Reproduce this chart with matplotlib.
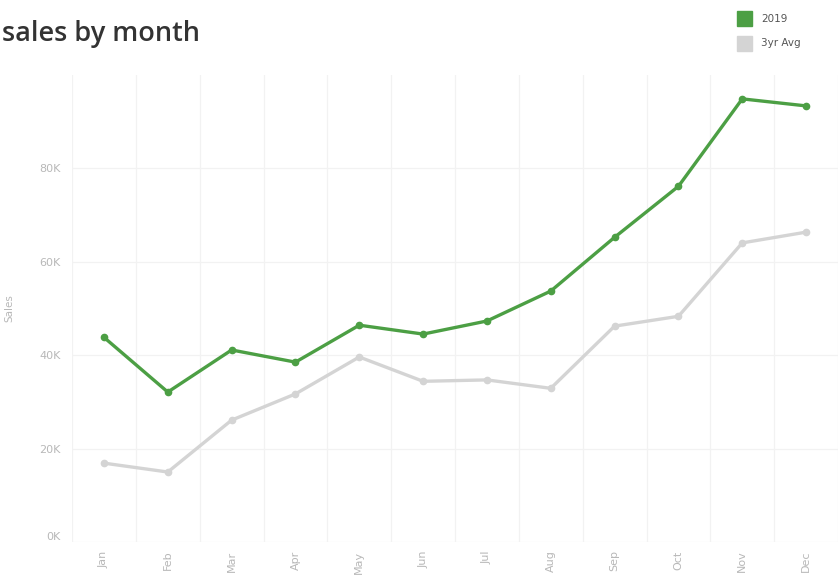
import matplotlib.pyplot as plt
from matplotlib.patches import Rectangle
from matplotlib.ticker import FuncFormatter

months = ['Jan', 'Feb', 'Mar', 'Apr', 'May', 'Jun', 'Jul', 'Aug', 'Sep', 'Oct', 'Nov', 'Dec']
sales_2019 = [43800, 32100, 41100, 38500, 46400, 44500, 47300, 53700, 65200, 76100, 94800, 93300]
sales_3yr_avg = [16900, 15000, 26100, 31700, 39600, 34400, 34700, 32900, 46200, 48300, 64000, 66300]
y_ticks = [0, 20000, 40000, 60000, 80000]

green = '#4c9f44'
grey = '#d4d4d4'
label_col = '#b8b8b8'

fig = plt.figure(figsize=(8.38, 5.78), dpi=100)
ax = fig.add_axes([0.086, 0.062, 0.914, 0.809])

x = range(len(months))
ax.plot(x, sales_3yr_avg, color=grey, lw=2.4, marker='o', ms=4.5, zorder=3)
ax.plot(x, sales_2019, color=green, lw=2.4, marker='o', ms=4.5, zorder=4)

ax.set_xlim(-0.5, len(months) - 0.5)
ax.set_ylim(0, 100000)

ax.set_yticks(y_ticks)
ax.yaxis.set_major_formatter(FuncFormatter(lambda v, p: f'{int(v / 1000)}K'))
ax.set_xticks(list(x))
ax.set_xticklabels(months, rotation=90)
ax.set_xticks([i + 0.5 for i in range(-1, len(months))], minor=True)

ax.tick_params(axis='both', which='both', length=0, colors=label_col, labelsize=8)
ax.tick_params(axis='y', pad=8)
ax.tick_params(axis='x', pad=6)
ax.get_yticklabels()[0].set_va('bottom')

ax.grid(axis='y', which='major', color='#f2f2f2', lw=0.9)
ax.grid(axis='x', which='minor', color='#f2f2f2', lw=0.9)
ax.set_axisbelow(True)
for s in ax.spines.values():
    s.set_visible(False)

ax.set_ylabel('Sales', color=label_col, fontsize=7.5, labelpad=18)

fig.text(0.002, 0.942, 'sales by month', fontsize=19.5, color='#333333',
         fontfamily='Open Sans', fontweight='semibold', va='center', ha='left')

# legend
fig.patches.append(Rectangle((737 / 838, 1 - 26 / 578), 15 / 838, 15 / 578,
                             transform=fig.transFigure, color=green))
fig.patches.append(Rectangle((737 / 838, 1 - 51 / 578), 15 / 838, 15 / 578,
                             transform=fig.transFigure, color=grey))
fig.text(761 / 838, 1 - 18.5 / 578, '2019', fontsize=7.5, color='#555555', va='center')
fig.text(761 / 838, 1 - 43.5 / 578, '3yr Avg', fontsize=7.5, color='#555555', va='center')

fig.savefig('out.png', dpi=100, facecolor='white')
